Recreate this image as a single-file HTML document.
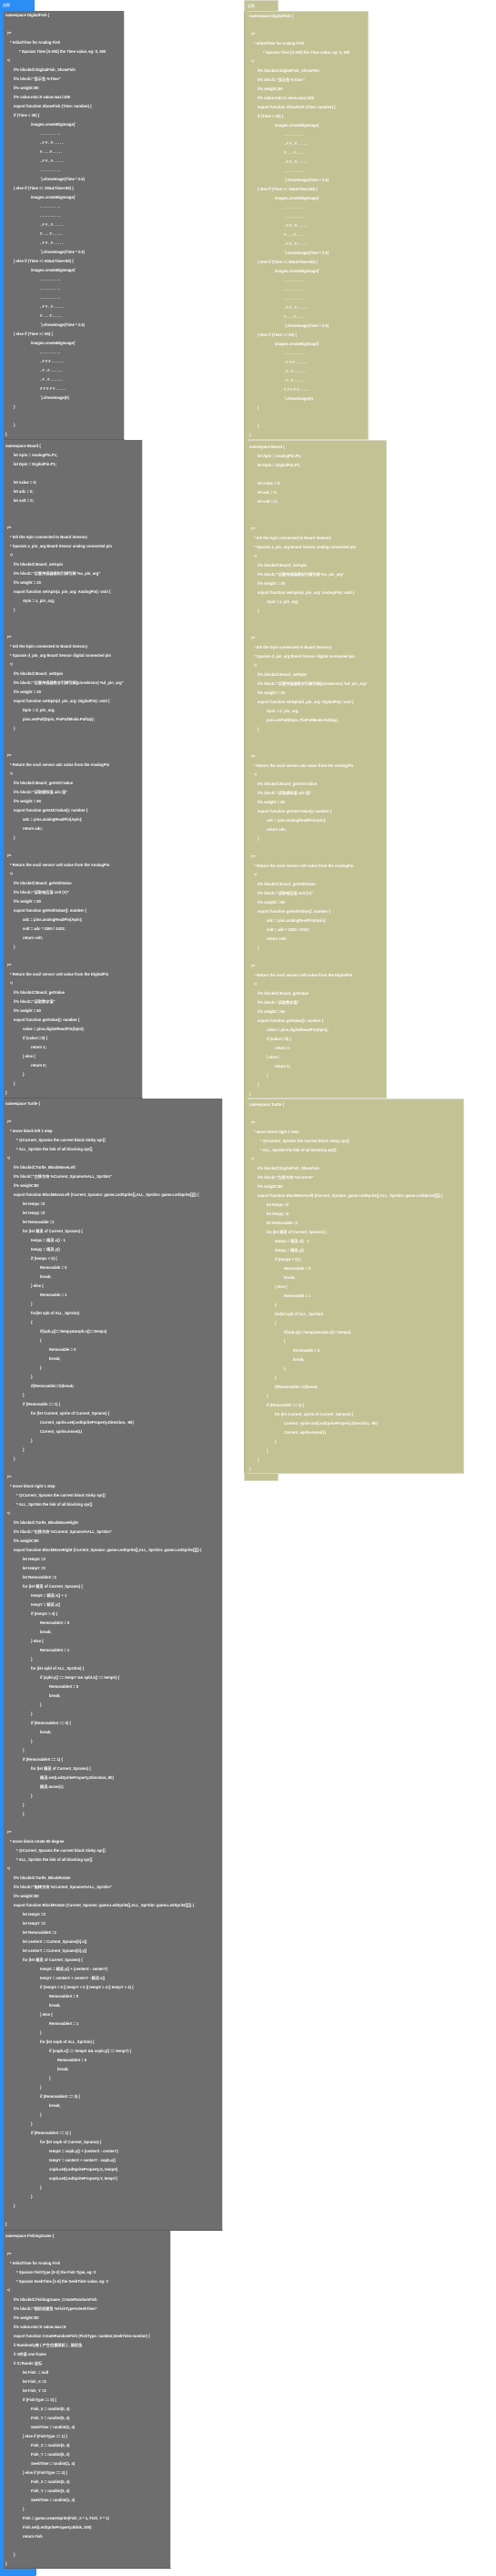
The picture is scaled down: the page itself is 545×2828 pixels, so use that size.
<!DOCTYPE html>
<html><head><meta charset="utf-8">
<style>
html,body{margin:0;padding:0;background:#fff;width:545px;height:2828px;overflow:hidden;position:relative}
.x{position:absolute}
.bl{background:#2b8ef4}
.ol{background:#c2c295}
.g{position:absolute;background:#6e6e6e;box-sizing:border-box;border-right:1px solid #d8d8d8;border-bottom:1px solid #5e5e5e}
.o{position:absolute;background:#c2c295;box-sizing:border-box;border:1px solid #d9d9c4;border-left:none}
.g p,.o p{margin:0;height:10px;line-height:10px;white-space:pre;font-family:"Liberation Sans","Noto Sans CJK SC",sans-serif;font-weight:bold;font-size:4.2px;color:#fff;padding-left:2px;overflow:visible}
.g p.c,.o p.c{padding-left:4px}
.g p.d,.o p.d{padding-left:7px}
.g p.e,.o p.e{padding-left:14px}
.g p.f,.o p.f{padding-left:17px}
.g p.l1,.o p.l1{padding-left:11px}
.g p.l2,.o p.l2{padding-left:21px}
.g p.l3,.o p.l3{padding-left:30px}
.g p.l4,.o p.l4{padding-left:40px}
.g p.l5,.o p.l5{padding-left:50px}
.g p.l6,.o p.l6{padding-left:59px}
.h{font-family:"Liberation Sans","Noto Sans CJK SC",sans-serif;font-size:4px;color:#fff;line-height:12px;padding-left:3px;box-sizing:border-box}
</style></head><body>

<!-- left column chrome -->
<div class="x bl" style="left:0;top:0;width:4px;height:2828px"></div>
<div class="x bl h" style="left:0;top:0;width:38px;height:12px">函数</div>
<div class="x bl" style="left:0;top:2819px;width:40px;height:9px;border-radius:0 0 2px 0"></div>

<!-- right column chrome -->
<div class="x ol" style="left:268px;top:0;width:4px;height:1626px;border-left:1px solid #b4b48a;box-sizing:border-box"></div>
<div class="x ol h" style="left:268px;top:0;width:38px;height:12px;border:1px solid #d9d9c4;border-bottom:none">函数</div>
<div class="x ol" style="left:268px;top:1617px;width:38px;height:9px;border:1px solid #d9d9c4;border-top:none;box-sizing:border-box"></div>

<!-- LEFT B1 -->
<div class="g" style="left:4px;top:12px;width:133px;height:471px">
<p>namespace DigitalFish {</p>
<p></p>
<p class="c">/**</p>
<p class="d">* InitialTime for Analog Fish</p>
<p class="f">* Sparam Time [0-300] the Time value, eg: 0, 300</p>
<p class="c">*/</p>
<p class="l1">//% blockId=DigitalFish_ShowFish</p>
<p class="l1">//% block="显示鱼 %Time"</p>
<p class="l1">//% weight=80</p>
<p class="l1">//% value.min=0 value.max=300</p>
<p class="l1">export function ShowFish (Time: number) {</p>
<p class="l1">if (Time &lt; 30) {</p>
<p class="l3">images.createBigImage(`</p>
<p class="l4">. . . . . . . . . .</p>
<p class="l4">. # # . # . . . . .</p>
<p class="l4"># . . . # . . . . .</p>
<p class="l4">. # # . # . . . . .</p>
<p class="l4">. . . . . . . . . .</p>
<p class="l4">`).showImage(Time * 2.5)</p>
<p class="l1">} else if (Time &gt;= 30&amp;&amp;Time&lt;60) {</p>
<p class="l3">images.createBigImage(`</p>
<p class="l4">. . . . . . . . . .</p>
<p class="l4">. . . . . . . . . .</p>
<p class="l4">. # # . # . . . . .</p>
<p class="l4"># . . . # . . . . .</p>
<p class="l4">. # # . # . . . . .</p>
<p class="l4">`).showImage(Time * 2.5)</p>
<p class="l1">} else if (Time &gt;= 60&amp;&amp;Time&lt;90) {</p>
<p class="l3">images.createBigImage(`</p>
<p class="l4">. . . . . . . . . .</p>
<p class="l4">. . . . . . . . . .</p>
<p class="l4">. . . . . . . . . .</p>
<p class="l4">. # # . # . . . . .</p>
<p class="l4"># . . . # . . . . .</p>
<p class="l4">`).showImage(Time * 2.5)</p>
<p class="l1">} else if (Time &gt;= 90) {</p>
<p class="l3">images.createBigImage(`</p>
<p class="l4">. . . . . . . . . .</p>
<p class="l4">. # # # . . . . . .</p>
<p class="l4">. # . # . . . . . .</p>
<p class="l4">. # . # . . . . . .</p>
<p class="l4"># # # # # . . . . .</p>
<p class="l4">`).showImage(0)</p>
<p class="l1">}</p>
<p></p>
<p class="l1">}</p>
<p>}</p>
</div>

<!-- LEFT B2 -->
<div class="g" style="left:4px;top:483px;width:153px;height:723px;padding-top:2px">
<p>namespace Board {</p>
<p class="l1">let Apin = AnalogPin.P1;</p>
<p class="l1">let Dpin = DigitalPin.P1;</p>
<p></p>
<p class="l1">let value = 0;</p>
<p class="l1">let adc = 0;</p>
<p class="l1">let volt = 0;</p>
<p></p>
<p></p>
<p class="c">/**</p>
<p class="d">* Init the Apin connected to Board Sensory</p>
<p class="d">* Sparam a_pin_arg Board Sensor analog connected pin</p>
<p class="d">*/</p>
<p class="l1">//% blockId=Board_setApin</p>
<p class="l1">//% block="设置传感器模拟引脚引脚 %a_pin_arg"</p>
<p class="l1">//% weight = 20</p>
<p class="l1">export function setApin(a_pin_arg: AnalogPin): void {</p>
<p class="l2">Apin = a_pin_arg;</p>
<p class="l1">}</p>
<p></p>
<p></p>
<p class="c">/**</p>
<p class="d">* Init the Dpin connected to Board Sensory</p>
<p class="d">* Sparam d_pin_arg Board Sensor digital connected pin</p>
<p class="d">*/</p>
<p class="l1">//% blockId=Board_setDpin</p>
<p class="l1">//% block="设置传感器数字引脚引脚(pinselector) %d_pin_arg"</p>
<p class="l1">//% weight = 20</p>
<p class="l1">export function setDpin(d_pin_arg: DigitalPin): void {</p>
<p class="l2">Dpin = d_pin_arg;</p>
<p class="l2">pins.setPull(Dpin, PinPullMode.PullUp);</p>
<p class="l1">}</p>
<p></p>
<p></p>
<p class="c">/**</p>
<p class="d">* Return the oscil sensor adc value from the AnalogPin</p>
<p class="d">*/</p>
<p class="l1">//% blockId=Board_getADCValue</p>
<p class="l1">//% block="读取模拟值 adc 值"</p>
<p class="l1">//% weight = 80</p>
<p class="l1">export function getADCValue(): number {</p>
<p class="l2">adc = pins.analogReadPin(Apin);</p>
<p class="l2">return adc;</p>
<p class="l1">}</p>
<p></p>
<p class="c">/**</p>
<p class="d">* Return the oscil sensor volt value from the AnalogPin</p>
<p class="d">*/</p>
<p class="l1">//% blockId=Board_getVoltValue</p>
<p class="l1">//% block="读取电压值 volt (V)"</p>
<p class="l1">//% weight = 80</p>
<p class="l1">export function getVoltValue(): number {</p>
<p class="l2">adc = pins.analogReadPin(Apin);</p>
<p class="l2">volt = adc * 3300 / 1023;</p>
<p class="l2">return volt;</p>
<p class="l1">}</p>
<p></p>
<p class="c">/**</p>
<p class="d">* Return the oscil sensor volt value from the DigitalPin</p>
<p class="d">*/</p>
<p class="l1">//% blockId=Board_getValue</p>
<p class="l1">//% block="读取数字值"</p>
<p class="l1">//% weight = 60</p>
<p class="l1">export function getValue(): number {</p>
<p class="l2">value = pins.digitalReadPin(Dpin);</p>
<p class="l2">if (value==0) {</p>
<p class="l3">return 1;</p>
<p class="l2">} else {</p>
<p class="l3">return 0;</p>
<p class="l2">}</p>
<p class="l1">}</p>
<p>}</p>
</div>

<!-- LEFT B3 -->
<div class="g" style="left:4px;top:1206px;width:241px;height:1243px;padding-top:1px">
<p>namespace Turtle {</p>
<p></p>
<p class="c">/**</p>
<p class="d">* move block left 1 step</p>
<p class="e">* @Current_Sprams the current block Sinky spr[]</p>
<p class="e">* ALL_SprSim the link of all blocking spr[]</p>
<p class="c">*/</p>
<p class="l1">//% blockId=Turtle_BlockMoveLeft</p>
<p class="l1">//% block="左移方块 %Current_Sprams%ALL_SprSim"</p>
<p class="l1">//% weight=80</p>
<p class="l1">export function BlockMoveLeft (Current_Sprams: game.LedSprite[],ALL_SprSim: game.LedSprite[][]) {</p>
<p class="l2">let tempx =0</p>
<p class="l2">let tempy =0</p>
<p class="l2">let Removable =1</p>
<p class="l2">for (let 精灵 of Current_Sprams) {</p>
<p class="l3">tempx = 精灵.x() - 1</p>
<p class="l3">tempy = 精灵.y()</p>
<p class="l3">if (tempx &lt; 0) {</p>
<p class="l4">Removable = 0</p>
<p class="l4">break;</p>
<p class="l3">} else {</p>
<p class="l4">Removable = 1</p>
<p class="l3">}</p>
<p class="l3">for(let spb of ALL_SprSim)</p>
<p class="l3">{</p>
<p class="l4">if(spb.y()==tempy&amp;&amp;spb.x()==tempx)</p>
<p class="l4">{</p>
<p class="l5">Removable = 0</p>
<p class="l5">break;</p>
<p class="l4">}</p>
<p class="l3">}</p>
<p class="l3">if(Removable==0)break;</p>
<p class="l2">}</p>
<p class="l2">if (Removable == 1) {</p>
<p class="l3">for (let Current_sprite of Current_Sprams) {</p>
<p class="l4">Current_sprite.set(LedSpriteProperty.Direction, -90)</p>
<p class="l4">Current_sprite.move(1)</p>
<p class="l3">}</p>
<p class="l2">}</p>
<p class="l1">}</p>
<p></p>
<p class="c">/**</p>
<p class="d">* move block right 1 step</p>
<p class="e">* @Current_Sprams the current block Sinky spr[]</p>
<p class="e">* ALL_SprSim the link of all blocking spr[]</p>
<p class="c">*/</p>
<p class="l1">//% blockId=Turtle_BlockMoveRight</p>
<p class="l1">//% block="右移方块 %Current_Sprams%ALL_SprSim"</p>
<p class="l1">//% weight=80</p>
<p class="l1">export function BlockMoveRight (Current_Sprams: game.LedSprite[],ALL_SprSim: game.LedSprite[][]) {</p>
<p class="l2">let tempX =0</p>
<p class="l2">let tempY =0</p>
<p class="l2">let RemovableX =1</p>
<p class="l2">for (let 精灵 of Current_Sprams) {</p>
<p class="l3">tempX = 精灵.x() + 1</p>
<p class="l3">tempY = 精灵.y()</p>
<p class="l3">if (tempX &gt; 4) {</p>
<p class="l4">RemovableX = 0</p>
<p class="l4">break;</p>
<p class="l3">} else {</p>
<p class="l4">RemovableX = 1</p>
<p class="l3">}</p>
<p class="l3">for (let spbl of ALL_SprSim) {</p>
<p class="l4">if (spbl.y() == tempY &amp;&amp; spbl.x() == tempX) {</p>
<p class="l5">RemovableX = 0</p>
<p class="l5">break;</p>
<p class="l4">}</p>
<p class="l3">}</p>
<p class="l3">if (RemovableX == 0) {</p>
<p class="l4">break;</p>
<p class="l3">}</p>
<p class="l2">}</p>
<p class="l2">if (RemovableX == 1) {</p>
<p class="l3">for (let 精灵 of Current_Sprams) {</p>
<p class="l4">精灵.set(LedSpriteProperty.Direction, 90)</p>
<p class="l4">精灵.move(1)</p>
<p class="l3">}</p>
<p class="l2">}</p>
<p class="l2">}</p>
<p></p>
<p class="c">/**</p>
<p class="d">* move block rotate 90 degree</p>
<p class="e">* @Current_Sprams the current block Sinky spr[]</p>
<p class="e">* ALL_SprSim the link of all blocking spr[]</p>
<p class="c">*/</p>
<p class="l1">//% blockId=Turtle_BlockRotate</p>
<p class="l1">//% block="旋转方块 %Current_Sprams%ALL_SprSim"</p>
<p class="l1">//% weight=80</p>
<p class="l1">export function BlockRotate (Current_Sprams: game.LedSprite[],ALL_SprSim: game.LedSprite[][]) {</p>
<p class="l2">let tempX =0</p>
<p class="l2">let tempY =0</p>
<p class="l2">let RemovableX =1</p>
<p class="l2">let centerX = Current_Sprams[0].x()</p>
<p class="l2">let centerY = Current_Sprams[0].y()</p>
<p class="l2">for (let 精灵 of Current_Sprams) {</p>
<p class="l4">tempX = 精灵.y() + (centerX - centerY)</p>
<p class="l4">tempY = centerX + centerY - 精灵.x()</p>
<p class="l4">if (tempX &lt; 0 || tempY &lt; 0 || tempX &gt; 4 || tempY &gt; 4) {</p>
<p class="l5">RemovableX = 0</p>
<p class="l5">break;</p>
<p class="l4">} else {</p>
<p class="l5">RemovableX = 1</p>
<p class="l4">}</p>
<p class="l4">for (let sopb of ALL_SprSim) {</p>
<p class="l5">if (sopb.x() == tempX &amp;&amp; sopb.y() == tempY) {</p>
<p class="l6">RemovableX = 0</p>
<p class="l6">break;</p>
<p class="l5">}</p>
<p class="l4">}</p>
<p class="l4">if (RemovableX == 0) {</p>
<p class="l5">break;</p>
<p class="l4">}</p>
<p class="l3">}</p>
<p class="l3">if (RemovableX == 1) {</p>
<p class="l4">for (let sopb of Current_Sprams) {</p>
<p class="l5">tempX = sopb.y() + (centerX - centerY)</p>
<p class="l5">tempY = centerX + centerY - sopb.x()</p>
<p class="l5">sopb.set(LedSpriteProperty.X, tempX)</p>
<p class="l5">sopb.set(LedSpriteProperty.Y, tempY)</p>
<p class="l4">}</p>
<p class="l3">}</p>
<p class="l1">}</p>
<p></p>
<p>}</p>
</div>

<!-- LEFT B4 -->
<div class="g" style="left:4px;top:2449px;width:184px;height:371px;padding-top:1px">
<p>namespace FishingGame {</p>
<p></p>
<p class="c">/**</p>
<p class="d">* InitialTime for Analog Fish</p>
<p class="e">* Sparam FishType [0-2] the Fish Type, eg: 0</p>
<p class="e">* Sparam SeekTime [1-5] the SeekTime value, eg: 3</p>
<p class="c">*/</p>
<p class="l1">//% blockId=FishingGame_CreateRandomFish</p>
<p class="l1">//% block="随机创建鱼 %FishType%SeekTime"</p>
<p class="l1">//% weight=80</p>
<p class="l1">//% value.min=0 value.max=6</p>
<p class="l1">export function CreateRandomFish (FishType: number,SeekTime:number) {</p>
<p class="l1">// Randomly放 ( 产生位置随机 ) , 随机鱼</p>
<p class="l1">// X的值 one frame</p>
<p class="l1">// X=Rando 坐标</p>
<p class="l2">let Fish  = null</p>
<p class="l2">let Fish_X =0</p>
<p class="l2">let Fish_Y =0</p>
<p class="l2">if (FishType == 0) {</p>
<p class="l3">Fish_X = randint(0, 4)</p>
<p class="l3">Fish_Y = randint(0, 4)</p>
<p class="l3">SeekTime = randint(1, 4)</p>
<p class="l2">} else if (FishType == 1) {</p>
<p class="l3">Fish_X = randint(0, 4)</p>
<p class="l3">Fish_Y = randint(0, 2)</p>
<p class="l3">SeekTime = randint(1, 4)</p>
<p class="l2">} else if (FishType == 2) {</p>
<p class="l3">Fish_X = randint(0, 4)</p>
<p class="l3">Fish_Y = randint(3, 4)</p>
<p class="l3">SeekTime = randint(1, 4)</p>
<p class="l2">}</p>
<p class="l2">Fish = game.createSprite(Fish_X * 1, Fish_Y * 1)</p>
<p class="l2">Fish.set(LedSpriteProperty.Blink, 300)</p>
<p class="l2">return Fish</p>
<p></p>
<p class="l1">}</p>
<p>}</p>
</div>

<!-- RIGHT R1 -->
<div class="o" style="left:272px;top:12px;width:133px;height:471px">
<p>namespace DigitalFish {</p>
<p></p>
<p class="c">/**</p>
<p class="d">* InitialTime for Analog Fish</p>
<p class="f">* Sparam Time [0-300] the Time value, eg: 0, 300</p>
<p class="c">*/</p>
<p class="l1">//% blockId=DigitalFish_ShowFish</p>
<p class="l1">//% block="显示鱼 %Time"</p>
<p class="l1">//% weight=80</p>
<p class="l1">//% value.min=0 value.max=300</p>
<p class="l1">export function ShowFish (Time: number) {</p>
<p class="l1">if (Time &lt; 30) {</p>
<p class="l3">images.createBigImage(`</p>
<p class="l4">. . . . . . . . . .</p>
<p class="l4">. # # . # . . . . .</p>
<p class="l4"># . . . # . . . . .</p>
<p class="l4">. # # . # . . . . .</p>
<p class="l4">. . . . . . . . . .</p>
<p class="l4">`).showImage(Time * 2.5)</p>
<p class="l1">} else if (Time &gt;= 30&amp;&amp;Time&lt;60) {</p>
<p class="l3">images.createBigImage(`</p>
<p class="l4">. . . . . . . . . .</p>
<p class="l4">. . . . . . . . . .</p>
<p class="l4">. # # . # . . . . .</p>
<p class="l4"># . . . # . . . . .</p>
<p class="l4">. # # . # . . . . .</p>
<p class="l4">`).showImage(Time * 2.5)</p>
<p class="l1">} else if (Time &gt;= 60&amp;&amp;Time&lt;90) {</p>
<p class="l3">images.createBigImage(`</p>
<p class="l4">. . . . . . . . . .</p>
<p class="l4">. . . . . . . . . .</p>
<p class="l4">. . . . . . . . . .</p>
<p class="l4">. # # . # . . . . .</p>
<p class="l4"># . . . # . . . . .</p>
<p class="l4">`).showImage(Time * 2.5)</p>
<p class="l1">} else if (Time &gt;= 90) {</p>
<p class="l3">images.createBigImage(`</p>
<p class="l4">. . . . . . . . . .</p>
<p class="l4">. # # # . . . . . .</p>
<p class="l4">. # . # . . . . . .</p>
<p class="l4">. # . # . . . . . .</p>
<p class="l4"># # # # # . . . . .</p>
<p class="l4">`).showImage(0)</p>
<p class="l1">}</p>
<p></p>
<p class="l1">}</p>
<p>}</p>
</div>

<!-- RIGHT R2 -->
<div class="o" style="left:272px;top:483px;width:153px;height:723px;padding-top:2px">
<p>namespace Board {</p>
<p class="l1">let Apin = AnalogPin.P1;</p>
<p class="l1">let Dpin = DigitalPin.P1;</p>
<p></p>
<p class="l1">let value = 0;</p>
<p class="l1">let adc = 0;</p>
<p class="l1">let volt = 0;</p>
<p></p>
<p></p>
<p class="c">/**</p>
<p class="d">* Init the Apin connected to Board Sensory</p>
<p class="d">* Sparam a_pin_arg Board Sensor analog connected pin</p>
<p class="d">*/</p>
<p class="l1">//% blockId=Board_setApin</p>
<p class="l1">//% block="设置传感器模拟引脚引脚 %a_pin_arg"</p>
<p class="l1">//% weight = 20</p>
<p class="l1">export function setApin(a_pin_arg: AnalogPin): void {</p>
<p class="l2">Apin = a_pin_arg;</p>
<p class="l1">}</p>
<p></p>
<p></p>
<p class="c">/**</p>
<p class="d">* Init the Dpin connected to Board Sensory</p>
<p class="d">* Sparam d_pin_arg Board Sensor digital connected pin</p>
<p class="d">*/</p>
<p class="l1">//% blockId=Board_setDpin</p>
<p class="l1">//% block="设置传感器数字引脚引脚(pinselector) %d_pin_arg"</p>
<p class="l1">//% weight = 20</p>
<p class="l1">export function setDpin(d_pin_arg: DigitalPin): void {</p>
<p class="l2">Dpin = d_pin_arg;</p>
<p class="l2">pins.setPull(Dpin, PinPullMode.PullUp);</p>
<p class="l1">}</p>
<p></p>
<p></p>
<p class="c">/**</p>
<p class="d">* Return the oscil sensor adc value from the AnalogPin</p>
<p class="d">*/</p>
<p class="l1">//% blockId=Board_getADCValue</p>
<p class="l1">//% block="读取模拟值 adc 值"</p>
<p class="l1">//% weight = 80</p>
<p class="l1">export function getADCValue(): number {</p>
<p class="l2">adc = pins.analogReadPin(Apin);</p>
<p class="l2">return adc;</p>
<p class="l1">}</p>
<p></p>
<p class="c">/**</p>
<p class="d">* Return the oscil sensor volt value from the AnalogPin</p>
<p class="d">*/</p>
<p class="l1">//% blockId=Board_getVoltValue</p>
<p class="l1">//% block="读取电压值 volt (V)"</p>
<p class="l1">//% weight = 80</p>
<p class="l1">export function getVoltValue(): number {</p>
<p class="l2">adc = pins.analogReadPin(Apin);</p>
<p class="l2">volt = adc * 3300 / 1023;</p>
<p class="l2">return volt;</p>
<p class="l1">}</p>
<p></p>
<p class="c">/**</p>
<p class="d">* Return the oscil sensor volt value from the DigitalPin</p>
<p class="d">*/</p>
<p class="l1">//% blockId=Board_getValue</p>
<p class="l1">//% block="读取数字值"</p>
<p class="l1">//% weight = 60</p>
<p class="l1">export function getValue(): number {</p>
<p class="l2">value = pins.digitalReadPin(Dpin);</p>
<p class="l2">if (value==0) {</p>
<p class="l3">return 1;</p>
<p class="l2">} else {</p>
<p class="l3">return 0;</p>
<p class="l2">}</p>
<p class="l1">}</p>
<p>}</p>
</div>

<!-- RIGHT R3 -->
<div class="o" style="left:272px;top:1206px;width:238px;height:412px;padding-top:1px">
<p>namespace Turtle {</p>
<p></p>
<p class="c">/**</p>
<p class="d">* move block right 1 step</p>
<p class="e">* @Current_Sprams the current block Sinky spr[]</p>
<p class="e">* ALL_SprSim the link of all blocking spr[]</p>
<p class="c">*/</p>
<p class="l1">//% blockId=DigitalFish_ShowFish</p>
<p class="l1">//% block="左移方块 %Current"</p>
<p class="l1">//% weight=80</p>
<p class="l1">export function BlockMoveLeft (Current_Sprams: game.LedSprite[],ALL_SprSim: game.LedSprite[][]) {</p>
<p class="l2">let tempx =0</p>
<p class="l2">let tempy =0</p>
<p class="l2">let Removable =1</p>
<p class="l2">for (let 精灵 of Current_Sprams) {</p>
<p class="l3">tempx = 精灵.x() - 1</p>
<p class="l3">tempy = 精灵.y()</p>
<p class="l3">if (tempx &lt; 0) {</p>
<p class="l4">Removable = 0</p>
<p class="l4">break;</p>
<p class="l3">} else {</p>
<p class="l4">Removable = 1</p>
<p class="l3">}</p>
<p class="l3">for(let spb of ALL_SprSim)</p>
<p class="l3">{</p>
<p class="l4">if(spb.y()==tempy&amp;&amp;spb.x()==tempx)</p>
<p class="l4">{</p>
<p class="l5">Removable = 0</p>
<p class="l5">break;</p>
<p class="l4">}</p>
<p class="l3">}</p>
<p class="l3">if(Removable==0)break;</p>
<p class="l2">}</p>
<p class="l2">if (Removable == 1) {</p>
<p class="l3">for (let Current_sprite of Current_Sprams) {</p>
<p class="l4">Current_sprite.set(LedSpriteProperty.Direction, -90)</p>
<p class="l4">Current_sprite.move(1)</p>
<p class="l3">}</p>
<p class="l2">}</p>
<p class="l1">}</p>
<p>}</p>
</div>

</body></html>
